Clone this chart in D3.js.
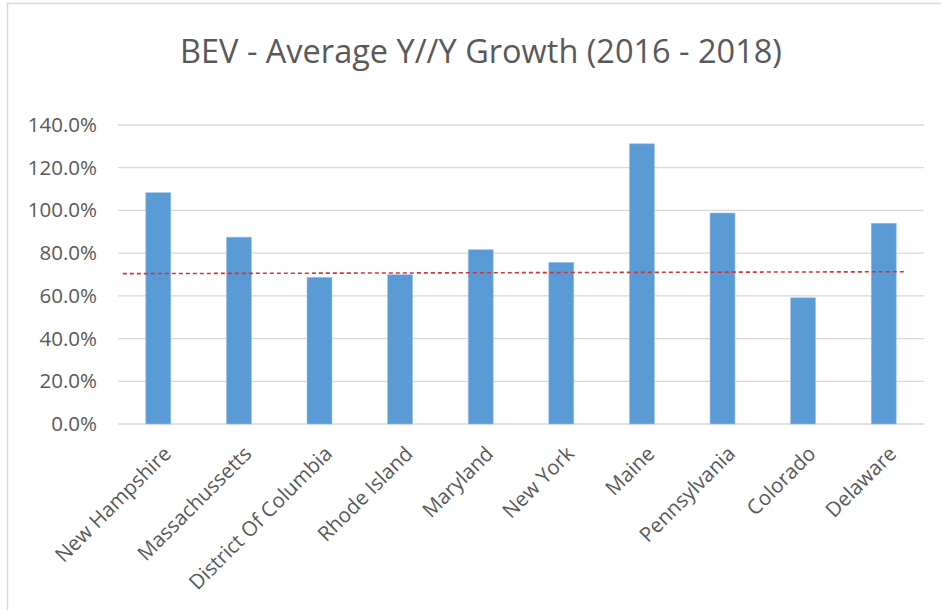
<!DOCTYPE html>
<html>
<head>
<meta charset="utf-8">
<script src="https://cdn.jsdelivr.net/npm/d3@7"></script>
<style>
  body { margin: 0; background: #fff; }
  text { font-family: "Open Sans", "Liberation Sans", sans-serif; fill: #595959; }
</style>
</head>
<body>
<div id="app"></div>
<script>
const states = ["New Hampshire", "Massachussetts", "District Of Columbia", "Rhode Island", "Maryland",
    "New York", "Maine", "Pennsylvania", "Colorado", "Delaware"];
const growth = [108.3, 87.5, 68.7, 69.9, 81.6, 75.7, 131.2, 98.8, 59.1, 94.0];
const yTicks = [0, 20, 40, 60, 80, 100, 120, 140];
// dashed reference line: [category index, value]
const trendIdx = [-0.44, 9.26];
const trendVal = [70.4, 71.3];

const width = 941, height = 610;
const margin = { left: 118, top: 125, right: 17, bottom: 186 };
const bounds = {
    width: width - margin.left - margin.right,
    height: height - margin.top - margin.bottom
};

const svg0 = d3.select('#app')
    .append('svg')
    .attr('width', width)
    .attr('height', height);

// chart frame
svg0.append('rect')
    .attr('x', 7.5).attr('y', 3.5)
    .attr('width', width + 10).attr('height', height + 10)
    .attr('fill', 'none')
    .attr('stroke', '#d9d9d9')
    .attr('stroke-width', 1.5);

svg0.append('text')
    .attr('x', 481).attr('y', 63)
    .attr('text-anchor', 'middle')
    .style('font-size', '32.5px')
    .text('BEV - Average Y//Y Growth (2016 - 2018)');

const svg = svg0.append('g')
    .attr('transform', `translate(${margin.left},${margin.top})`);

const xScale = d3.scaleBand()
    .domain(states)
    .range([0, bounds.width])
    .paddingInner(0.69)
    .paddingOuter(0.345);
const yScale = d3.scaleLinear()
    .domain([0, 140])
    .range([bounds.height, 0]);

// gridlines
svg.append('g')
    .selectAll('line')
    .data(yTicks)
    .join('line')
    .attr('x1', 0).attr('x2', bounds.width)
    .attr('y1', d => yScale(d)).attr('y2', d => yScale(d))
    .attr('stroke', '#d9d9d9')
    .attr('stroke-width', 1.3);

// y axis labels
const yAxis = svg.append('g')
    .call(d3.axisLeft(yScale).tickValues(yTicks).tickSize(0).tickPadding(21)
        .tickFormat(d => d.toFixed(1) + '%'));
yAxis.select('.domain').remove();
yAxis.selectAll('text').style('font-size', '20.5px').attr('fill', '#595959');

// bars
svg.selectAll('.bar')
    .data(states)
    .join('rect')
    .classed('bar', true)
    .attr('x', d => xScale(d))
    .attr('width', xScale.bandwidth())
    .attr('y', (d, i) => yScale(growth[i]))
    .attr('height', (d, i) => bounds.height - yScale(growth[i]))
    .attr('fill', '#5b9bd5')
    .attr('stroke', '#9dc3e6')
    .attr('stroke-width', 0.6);

// x axis labels
const xAxis = svg.append('g')
    .attr('transform', `translate(0,${bounds.height})`)
    .call(d3.axisBottom(xScale).tickSize(0));
xAxis.select('.domain').remove();
xAxis.selectAll('text')
    .style('font-size', '20.5px')
    .attr('fill', '#595959')
    .attr('text-anchor', 'end')
    .attr('dy', null)
    .attr('y', 0)
    .attr('transform', 'translate(14,31) rotate(-45)');

// dashed line
const step = xScale.step();
const xIdx = i => xScale(states[0]) + xScale.bandwidth() / 2 + i * step;
svg.append('path')
    .datum(d3.zip(trendIdx, trendVal))
    .attr('d', d3.line().x(d => xIdx(d[0])).y(d => yScale(d[1])))
    .attr('fill', 'none')
    .attr('stroke', '#d0353b')
    .attr('stroke-width', 1.6)
    .attr('stroke-dasharray', '4,3');
</script>
</body>
</html>
